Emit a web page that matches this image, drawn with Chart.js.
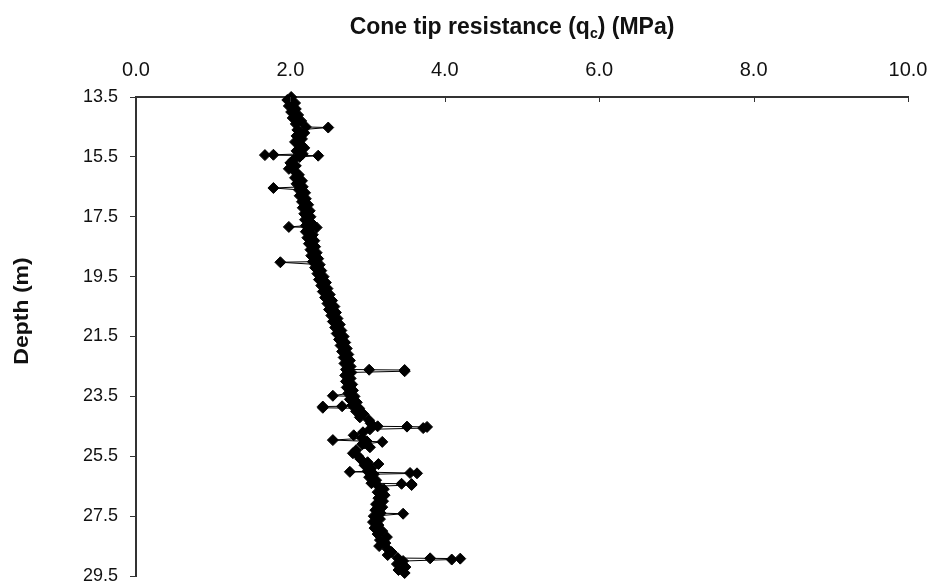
<!DOCTYPE html>
<html>
<head>
<meta charset="utf-8">
<script src="https://cdn.jsdelivr.net/npm/chart.js@4.4.0/dist/chart.umd.min.js"></script>
<style>
  html, body { margin: 0; padding: 0; background: #fff; }
  #wrap { width: 932px; height: 584px; }
</style>
</head>
<body>
<div id="wrap"><canvas id="cpt"></canvas></div>
<script>
// ---- data ----
const xTicks = [0, 2, 4, 6, 8, 10];
const yTicks = [13.5, 15.5, 17.5, 19.5, 21.5, 23.5, 25.5, 27.5, 29.5];

// depth (m)
const depth = [
  13.5, 13.6, 13.7, 13.8, 13.9,
  14.0, 14.1, 14.2, 14.3, 14.4, 14.5, 14.52, 14.6, 14.7, 14.8, 14.9,
  15.0, 15.1, 15.2, 15.3, 15.4, 15.43, 15.44, 15.46, 15.5, 15.6, 15.7, 15.8, 15.9,
  16.0, 16.1, 16.2, 16.3, 16.4, 16.5, 16.54, 16.6, 16.7, 16.8, 16.9,
  17.0, 17.1, 17.2, 17.3, 17.4, 17.5, 17.6, 17.7, 17.8, 17.84, 17.86, 17.9,
  18.0, 18.1, 18.2, 18.3, 18.4, 18.5, 18.6, 18.7, 18.8, 18.9,
  19.0, 19.02, 19.1, 19.2, 19.3, 19.4, 19.5, 19.6, 19.7, 19.8, 19.9,
  20.0, 20.1, 20.2, 20.3, 20.4, 20.5, 20.6, 20.7, 20.8, 20.9,
  21.0, 21.1, 21.2, 21.3, 21.4, 21.5, 21.6, 21.7, 21.8, 21.9,
  22.0, 22.1, 22.2, 22.3, 22.4, 22.5, 22.6, 22.61, 22.62, 22.66, 22.7, 22.8, 22.9,
  23.0, 23.1, 23.2, 23.3, 23.4, 23.48, 23.5, 23.6, 23.7, 23.8, 23.83, 23.84, 23.88, 23.9,
  24.0, 24.1, 24.2, 24.3, 24.4, 24.5, 24.51, 24.52, 24.56, 24.6, 24.7, 24.8, 24.9, 24.96,
  25.0, 25.02, 25.1, 25.2, 25.3, 25.4, 25.5, 25.6, 25.7, 25.76, 25.8, 25.9,
  26.0, 26.02, 26.06, 26.07, 26.1, 26.2, 26.3, 26.4, 26.42, 26.43, 26.46, 26.5, 26.6, 26.7, 26.8, 26.9,
  27.0, 27.1, 27.2, 27.3, 27.4, 27.42, 27.5, 27.6, 27.7, 27.8, 27.9,
  28.0, 28.1, 28.2, 28.3, 28.4, 28.5, 28.6, 28.7, 28.8, 28.9, 28.91, 28.92, 28.95,
  29.0, 29.1, 29.2, 29.3, 29.4
];

// cone tip resistance qc (MPa)
const qc = [
  2.01, 1.96, 2.06, 1.98, 2.07,
  2.01, 2.10, 2.03, 2.14, 2.07, 2.20, 2.49, 2.09, 2.18, 2.08, 2.15,
  2.06, 2.14, 2.18, 2.08, 2.16, 1.78, 1.67, 2.36, 2.12, 2.04, 2.00, 2.07, 1.98,
  2.06, 2.11, 2.06, 2.15, 2.08, 2.16, 1.78, 2.11, 2.19, 2.12, 2.20,
  2.15, 2.23, 2.16, 2.25, 2.18, 2.26, 2.19, 2.27, 2.20, 1.98, 2.34, 2.25,
  2.20, 2.29, 2.22, 2.31, 2.24, 2.32, 2.26, 2.34, 2.27, 2.36,
  2.29, 1.87, 2.38, 2.32, 2.40, 2.35, 2.43, 2.37, 2.46, 2.40, 2.48,
  2.42, 2.51, 2.45, 2.54, 2.48, 2.57, 2.50, 2.59, 2.53, 2.61,
  2.55, 2.64, 2.58, 2.66, 2.60, 2.69, 2.63, 2.71, 2.65, 2.73,
  2.67, 2.75, 2.69, 2.77, 2.70, 2.78, 2.72, 3.02, 3.48, 3.48, 2.79, 2.71, 2.78,
  2.72, 2.80, 2.73, 2.81, 2.75, 2.55, 2.83, 2.77, 2.86, 2.80, 2.67, 2.42, 2.42, 2.89,
  2.85, 2.95, 2.90, 3.02, 3.04, 3.13, 3.51, 3.77, 3.72, 3.03, 2.94, 2.82, 2.93, 2.55,
  2.99, 3.19, 2.93, 3.03, 2.85, 2.81, 2.88, 2.91, 3.00, 3.14, 2.96, 3.05,
  3.00, 2.77, 3.55, 3.64, 3.08, 3.02, 3.11, 3.05, 3.44, 3.57, 3.57, 3.14, 3.21, 3.13, 3.22, 3.14,
  3.20, 3.11, 3.19, 3.10, 3.17, 3.46, 3.08, 3.16, 3.07, 3.14, 3.09,
  3.19, 3.13, 3.25, 3.16, 3.23, 3.15, 3.26, 3.31, 3.26, 3.39, 3.81, 4.20, 4.09,
  3.46, 3.38, 3.49, 3.40, 3.48
];

const points = depth.map((d, i) => ({ x: qc[i], y: d }));

// titles drawn by hand (subscript c), plus inward ticks on the top axis
const titlesPlugin = {
  id: 'titles',
  afterDraw(chart) {
    const ctx = chart.ctx;
    const area = chart.chartArea;
    ctx.save();
    ctx.fillStyle = '#111';
    ctx.textBaseline = 'alphabetic';

    const big = 'bold 23px "Liberation Sans", Arial, sans-serif';
    const small = 'bold 14px "Liberation Sans", Arial, sans-serif';
    const parts = [['Cone tip resistance (q', big, 0], ['c', small, 4], [') (MPa)', big, 0]];
    let total = 0;
    parts.forEach(p => { ctx.font = p[1]; total += ctx.measureText(p[0]).width; });
    let x = 512 - total / 2;
    ctx.textAlign = 'left';
    parts.forEach(p => {
      ctx.font = p[1];
      ctx.fillText(p[0], x, 34 + p[2]);
      x += ctx.measureText(p[0]).width;
    });

    // left title, rotated
    ctx.save();
    ctx.translate(23, 311);
    ctx.rotate(-Math.PI / 2);
    ctx.scale(1, 0.85);
    ctx.font = 'bold 23px "Liberation Sans", Arial, sans-serif';
    ctx.textAlign = 'center';
    ctx.textBaseline = 'middle';
    ctx.fillText('Depth (m)', 0, 0);
    ctx.restore();

    const xs = chart.scales.x;
    ctx.strokeStyle = '#333';
    ctx.lineWidth = 1;
    xTicks.forEach(v => {
      const px = Math.round(xs.getPixelForValue(v)) + 0.5;
      ctx.beginPath();
      ctx.moveTo(px, area.top);
      ctx.lineTo(px, area.top + 5);
      ctx.stroke();
    });
    ctx.restore();
  }
};

new Chart(document.getElementById('cpt'), {
  type: 'scatter',
  data: {
    datasets: [{
      data: points,
      showLine: true,
      borderColor: '#000',
      borderWidth: 1,
      pointStyle: 'rectRot',
      pointRadius: 5.5,
      pointBackgroundColor: '#000',
      pointBorderColor: '#000',
      pointBorderWidth: 1,
      tension: 0,
      clip: false
    }]
  },
  options: {
    responsive: true,
    maintainAspectRatio: false,
    animation: false,
    layout: { padding: { left: 0, top: 0, right: 24, bottom: 8 } },
    plugins: { legend: { display: false }, title: { display: false }, tooltip: { enabled: false } },
    scales: {
      x: {
        type: 'linear',
        position: 'top',
        min: 0,
        max: 10,
        afterBuildTicks: s => { s.ticks = xTicks.map(v => ({ value: v })); },
        afterFit: s => { s.height = 97; s.paddingLeft = 0; s.paddingRight = 0; },
        grid: { display: true, drawOnChartArea: false, drawTicks: false },
        border: { display: true, color: '#333', width: 2 },
        ticks: {
          padding: 15,
          color: '#111',
          font: { family: '"Liberation Sans", Arial', size: 20 },
          callback: v => v.toFixed(1)
        }
      },
      y: {
        type: 'linear',
        reverse: true,
        min: 13.5,
        max: 29.5,
        afterBuildTicks: s => { s.ticks = yTicks.map(v => ({ value: v })); },
        afterFit: s => { s.width = 136; s.paddingTop = 0; s.paddingBottom = 0; },
        grid: { display: true, drawOnChartArea: false, drawTicks: true, tickLength: 6, color: '#333' },
        border: { display: true, color: '#333', width: 2 },
        ticks: {
          padding: 12,
          color: '#111',
          font: { family: '"Liberation Sans", Arial', size: 18 },
          callback: v => v.toFixed(1)
        }
      }
    }
  },
  plugins: [titlesPlugin]
});
</script>
</body>
</html>
